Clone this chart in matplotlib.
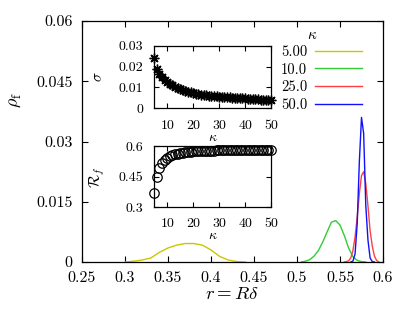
import numpy as np
import matplotlib
matplotlib.use('Agg')
import matplotlib.pyplot as plt

plt.rcParams['font.family'] = 'serif'
plt.rcParams['font.serif'] = ['cmr10']
plt.rcParams['mathtext.fontset'] = 'cm'
plt.rcParams['axes.unicode_minus'] = False
plt.rcParams['axes.formatter.use_mathtext'] = True

# main panel: rho_f(r) for several kappa
r5 = [0.300, 0.310, 0.320, 0.330, 0.340, 0.350, 0.360, 0.370, 0.380, 0.390, 0.400, 0.410, 0.420, 0.430, 0.440]
p5 = [0.0000, 0.0002, 0.0005, 0.0010, 0.0024, 0.0035, 0.0042, 0.0046, 0.0046, 0.0042, 0.0030, 0.0014, 0.0005, 0.0001, 0.0000]

r10 = [0.505, 0.510, 0.515, 0.520, 0.525, 0.530, 0.535, 0.540, 0.545, 0.550, 0.555, 0.560, 0.565, 0.570, 0.575, 0.580]
p10 = [0.0000, 0.0002, 0.0006, 0.0015, 0.0029, 0.0050, 0.0075, 0.0099, 0.0103, 0.0092, 0.0066, 0.0035, 0.0013, 0.0004, 0.0001, 0.0000]

r25 = [0.555, 0.5575, 0.560, 0.5625, 0.565, 0.5675, 0.570, 0.5725, 0.575, 0.5775, 0.580, 0.5825, 0.585, 0.5875, 0.590, 0.5925, 0.595]
p25 = [0.0000, 0.0001, 0.0003, 0.0010, 0.0028, 0.0062, 0.0112, 0.0170, 0.0215, 0.0225, 0.0195, 0.0140, 0.0078, 0.0040, 0.0015, 0.0004, 0.0000]

r50 = [0.5625, 0.565, 0.5675, 0.570, 0.5725, 0.575, 0.5775, 0.580, 0.5825, 0.585, 0.5875, 0.590]
p50 = [0.0000, 0.0002, 0.0020, 0.0095, 0.0250, 0.0360, 0.0320, 0.0140, 0.0055, 0.0010, 0.0001, 0.0000]

kappa_labels = ['5.00', '10.0', '25.0', '50.0']
colors = ['#c8c800', '#33cc33', '#ff4040', '#1010ff']

# insets: sigma(kappa) and R_f(kappa)
kappa = list(range(5, 51))
sigma = [0.0240, 0.0188, 0.0165, 0.0150, 0.0138, 0.0127, 0.0118, 0.0110, 0.0103, 0.0097,
         0.0092, 0.0087, 0.0083, 0.0079, 0.0076, 0.0073, 0.0070, 0.0068, 0.0066, 0.0064,
         0.0062, 0.0060, 0.0059, 0.0058, 0.0057, 0.0056, 0.0055, 0.0054, 0.0053, 0.0052,
         0.0051, 0.0050, 0.0049, 0.0048, 0.0047, 0.0047, 0.0046, 0.0045, 0.0044, 0.0044,
         0.0043, 0.0042, 0.0042, 0.0041, 0.0040, 0.0040]
Rf = [0.367, 0.450, 0.490, 0.515, 0.530, 0.541, 0.549, 0.555, 0.559, 0.563,
      0.566, 0.568, 0.570, 0.571, 0.572, 0.573, 0.574, 0.575, 0.575, 0.576,
      0.576, 0.577, 0.577, 0.577, 0.578, 0.578, 0.578, 0.578, 0.579, 0.579,
      0.579, 0.579, 0.579, 0.579, 0.580, 0.580, 0.580, 0.580, 0.580, 0.580,
      0.580, 0.580, 0.580, 0.580, 0.580, 0.580]

W, H = 415, 311
fig = plt.figure(figsize=(W / 100, H / 100), dpi=100)

def box(l, t, r, b):
    return [l / W, 1 - b / H, (r - l) / W, (b - t) / H]

def style(a, size, length, pad):
    a.tick_params(direction='in', top=True, right=True, length=length, width=0.8,
                  labelsize=size, pad=pad)
    for s in a.spines.values():
        s.set_linewidth(0.9)

ax = fig.add_axes(box(82, 21, 383, 262))
for r, p, c, lab in zip([r5, r10, r25, r50], [p5, p10, p25, p50], colors, kappa_labels):
    ax.plot(r, p, color=c, lw=1.0, label=lab)
ax.set_xlim(0.25, 0.6)
ax.set_ylim(0, 0.06)
ax.set_xticks([0.25, 0.3, 0.35, 0.4, 0.45, 0.5, 0.55, 0.6],
              ['0.25', '0.3', '0.35', '0.4', '0.45', '0.5', '0.55', '0.6'])
ax.set_yticks([0, 0.015, 0.03, 0.045, 0.06], ['0', '0.015', '0.03', '0.045', '0.06'])
style(ax, 11.5, 4, 7)
ax.set_xlabel(r'$r = R\delta$', fontsize=13.5, labelpad=0)
fig.text(15 / W, 1 - 100 / H, r'$\rho_{\rm f}$', rotation=90, ha='center', va='center', fontsize=13)

leg = ax.legend(markerfirst=False, frameon=False, fontsize=10.5,
                handlelength=3.2, handletextpad=0.55, labelspacing=0.28,
                borderpad=0, borderaxespad=0, loc='upper right',
                bbox_to_anchor=(362 / W, 1 - 45 / H), bbox_transform=fig.transFigure)
for t in leg.get_texts():
    t.set_ha('right')
fig.text(312 / W, 1 - 35 / H, r'$\kappa$', ha='center', va='center', fontsize=11)

ax1 = fig.add_axes(box(154.3, 45.7, 271, 108.3))
ax1.plot(kappa, sigma, ls='none', marker=(8, 2, 0), ms=7, mew=1.0, color='black', clip_on=False)
ax1.set_xlim(5, 50)
ax1.set_ylim(0, 0.03)
ax1.set_xticks([10, 20, 30, 40, 50], ['10', '20', '30', '40', '50'])
ax1.set_yticks([0, 0.01, 0.02, 0.03], ['0', '0.01', '0.02', '0.03'])
style(ax1, 10, 3.5, 8)
ax1.set_xlabel(r'$\kappa$', fontsize=10, labelpad=0)
fig.text(98 / W, 1 - 77 / H, r'$\sigma$', rotation=90, ha='center', va='center', fontsize=11)

ax2 = fig.add_axes(box(154.3, 146, 271, 207))
ax2.plot(kappa, Rf, ls='none', marker='o', ms=6.8, mfc='none', mec='black', mew=0.9, clip_on=False)
ax2.set_xlim(5, 50)
ax2.set_ylim(0.3, 0.6)
ax2.set_xticks([10, 20, 30, 40, 50], ['10', '20', '30', '40', '50'])
ax2.set_yticks([0.3, 0.45, 0.6], ['0.3', '0.45', '0.6'])
style(ax2, 10, 3.5, 8)
ax2.set_xlabel(r'$\kappa$', fontsize=10, labelpad=0)
fig.text(97 / W, 1 - 177 / H, r'$\mathcal{R}_f$', rotation=90, ha='center', va='center', fontsize=11)

fig.savefig('out.png', dpi=100)
